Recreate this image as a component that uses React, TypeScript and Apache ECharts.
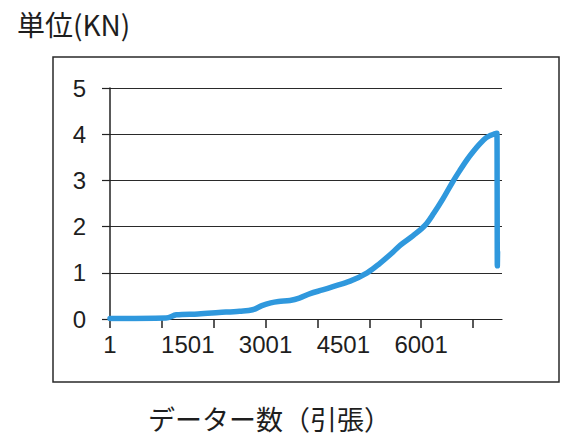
import React, { useEffect, useRef } from "react";
import * as echarts from "echarts";

// Data
const dataIndex = [0, 1080, 1280, 1700, 2100, 2500, 2750, 2930, 3100, 3250, 3470, 3650, 3860, 4100, 4300, 4630, 4960, 5200, 5460, 5600, 5840, 6070, 6250, 6420, 6610, 6750, 6880, 7010, 7140, 7250, 7330, 7400, 7462, 7466, 7470, 7474];
const loadKN = [0.01, 0.02, 0.09, 0.11, 0.14, 0.17, 0.2, 0.29, 0.35, 0.38, 0.4, 0.45, 0.55, 0.63, 0.7, 0.82, 1.0, 1.2, 1.45, 1.6, 1.8, 2.02, 2.3, 2.6, 2.97, 3.22, 3.44, 3.63, 3.8, 3.92, 3.97, 4.0, 4.02, 3.0, 1.15, 1.45];
const xLabelValues = [0, 1500, 3000, 4500, 6000];
const xLabels = ["1", "1501", "3001", "4501", "6001"];
const xTickValues = [0, 1000, 2000, 3000, 4000, 5000, 6000, 7000];
const yTicks = [0, 1, 2, 3, 4, 5];
const unitTitle = "単位(KN)";
const xTitle = "データー数（引張）";

export default function App() {
  const ref = useRef<HTMLDivElement>(null);
  useEffect(() => {
    document.body.style.margin = "0";
    if (!ref.current) return;
    const chart = echarts.init(ref.current, null, { renderer: "svg" });
    const digitFont = "'Liberation Sans', 'Noto Sans', sans-serif";
    const cjkFont = "'Noto Sans CJK JP', 'Noto Sans', sans-serif";
    chart.setOption({
      animation: false,
      backgroundColor: "#ffffff",
      grid: {
        left: 110,
        top: 88,
        right: 86,
        bottom: 118,
        containLabel: false,
        outerBoundsMode: "none",
      },
      xAxis: {
        type: "value",
        min: 0,
        max: 7560,
        axisLine: { show: true, onZero: false, lineStyle: { color: "#222", width: 1.2 } },
        axisTick: {
          show: true,
          length: 9,
          customValues: xTickValues,
          lineStyle: { color: "#222", width: 1.5 },
        },
        axisLabel: {
          customValues: xLabelValues,
          margin: 13,
          color: "#1e1e1e",
          fontSize: 24,
          fontFamily: digitFont,
          formatter: (v: number) => {
            const i = xLabelValues.indexOf(v);
            return i >= 0 ? xLabels[i] : "";
          },
        },
        splitLine: { show: false },
      },
      yAxis: {
        type: "value",
        min: yTicks[0],
        max: yTicks[yTicks.length - 1],
        interval: 1,
        axisLine: { show: true, lineStyle: { color: "#222", width: 1.5 } },
        axisTick: { show: true, length: 8, lineStyle: { color: "#222", width: 1.2 } },
        axisLabel: {
          margin: 24,
          color: "#1e1e1e",
          fontSize: 24,
          fontFamily: digitFont,
        },
        splitLine: { show: true, lineStyle: { color: "#2a2a2a", width: 1.2 } },
      },
      graphic: [
        {
          type: "rect",
          shape: { x: 53, y: 57, width: 506, height: 325 },
          style: { fill: "none", stroke: "#2a2a2a", lineWidth: 1.5 },
          z: -1,
        },
        {
          type: "text",
          x: 17,
          y: 24,
          style: {
            text: unitTitle,
            font: `28px ${cjkFont}`,
            fill: "#1e1e1e",
            textAlign: "left",
            textVerticalAlign: "middle",
          },
        },
        {
          type: "text",
          x: 148,
          y: 418,
          style: {
            text: xTitle,
            font: `27px ${cjkFont}`,
            fill: "#1e1e1e",
            textAlign: "left",
            textVerticalAlign: "middle",
          },
        },
      ],
      series: [
        {
          type: "line",
          data: dataIndex.map((x, i) => [x, loadKN[i]]),
          showSymbol: false,
          smooth: 0.35,
          lineStyle: { color: "#2f98dd", width: 5.5, cap: "round", join: "round" },
          itemStyle: { color: "#2f98dd" },
        },
      ],
    });
    return () => chart.dispose();
  }, []);
  return <div ref={ref} style={{ width: 588, height: 437 }} />;
}
